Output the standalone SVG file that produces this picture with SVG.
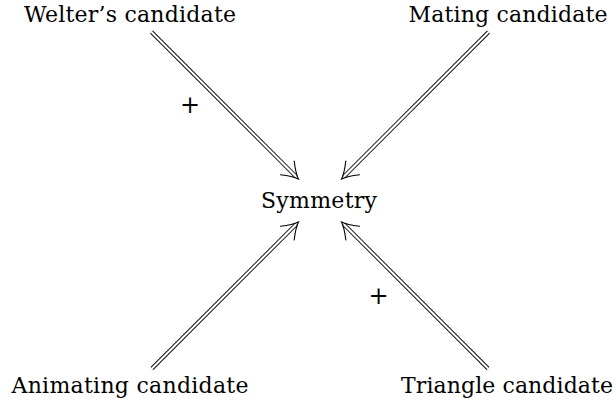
<svg xmlns="http://www.w3.org/2000/svg" width="616" height="406" viewBox="0 0 616 406">
<style>
.lbl{font-family:"DejaVu Serif","Liberation Serif",serif;font-size:22px;fill:#000;text-anchor:middle}
.plus{font-family:"DejaVu Serif","Liberation Serif",serif;font-size:24px;fill:#000;text-anchor:middle}
.outer{stroke:#000;stroke-width:4;fill:none;stroke-linecap:butt}
.inner{stroke:#fff;stroke-width:2.2;fill:none;stroke-linecap:butt}
.head{stroke:#000;stroke-width:1.1;fill:none;stroke-linecap:round}
</style>
<rect width="616" height="406" fill="#fff"/>
<g id="connectors">
  <g id="e-welter" transform="translate(298.5,179) rotate(45)">
    <line class="outer" x1="-207.9" y1="0" x2="-3" y2="0"/>
    <line class="inner" x1="-207.9" y1="0" x2="-3" y2="0"/>
    <path class="head" d="M-15.8,-9.7 Q-6,-2 0,0 Q-6,2 -15.8,9.7"/>
  </g>
  <g id="e-mating" transform="translate(341.5,179) rotate(135)">
    <line class="outer" x1="-207.9" y1="0" x2="-3" y2="0"/>
    <line class="inner" x1="-207.9" y1="0" x2="-3" y2="0"/>
    <path class="head" d="M-15.8,-9.7 Q-6,-2 0,0 Q-6,2 -15.8,9.7"/>
  </g>
  <g id="e-animating" transform="translate(298.5,222) rotate(-45)">
    <line class="outer" x1="-207.2" y1="0" x2="-3" y2="0"/>
    <line class="inner" x1="-207.2" y1="0" x2="-3" y2="0"/>
    <path class="head" d="M-15.8,-9.7 Q-6,-2 0,0 Q-6,2 -15.8,9.7"/>
  </g>
  <g id="e-triangle" transform="translate(341.5,222) rotate(-135)">
    <line class="outer" x1="-207.2" y1="0" x2="-3" y2="0"/>
    <line class="inner" x1="-207.2" y1="0" x2="-3" y2="0"/>
    <path class="head" d="M-15.8,-9.7 Q-6,-2 0,0 Q-6,2 -15.8,9.7"/>
  </g>
  <text class="plus" x="190" y="113">+</text>
  <text class="plus" x="378.5" y="304">+</text>
</g>
<g id="n-welter"><text class="lbl" x="130" y="22" textLength="212" lengthAdjust="spacing">Welter’s candidate</text></g>
<g id="n-mating"><text class="lbl" x="508" y="22" textLength="199" lengthAdjust="spacing">Mating candidate</text></g>
<g id="n-symmetry"><text class="lbl" x="319" y="208" textLength="116" lengthAdjust="spacing">Symmetry</text></g>
<g id="n-animating"><text class="lbl" x="130" y="393" textLength="237" lengthAdjust="spacing">Animating candidate</text></g>
<g id="n-triangle"><text class="lbl" x="507" y="393" textLength="212" lengthAdjust="spacing">Triangle candidate</text></g>
</svg>
